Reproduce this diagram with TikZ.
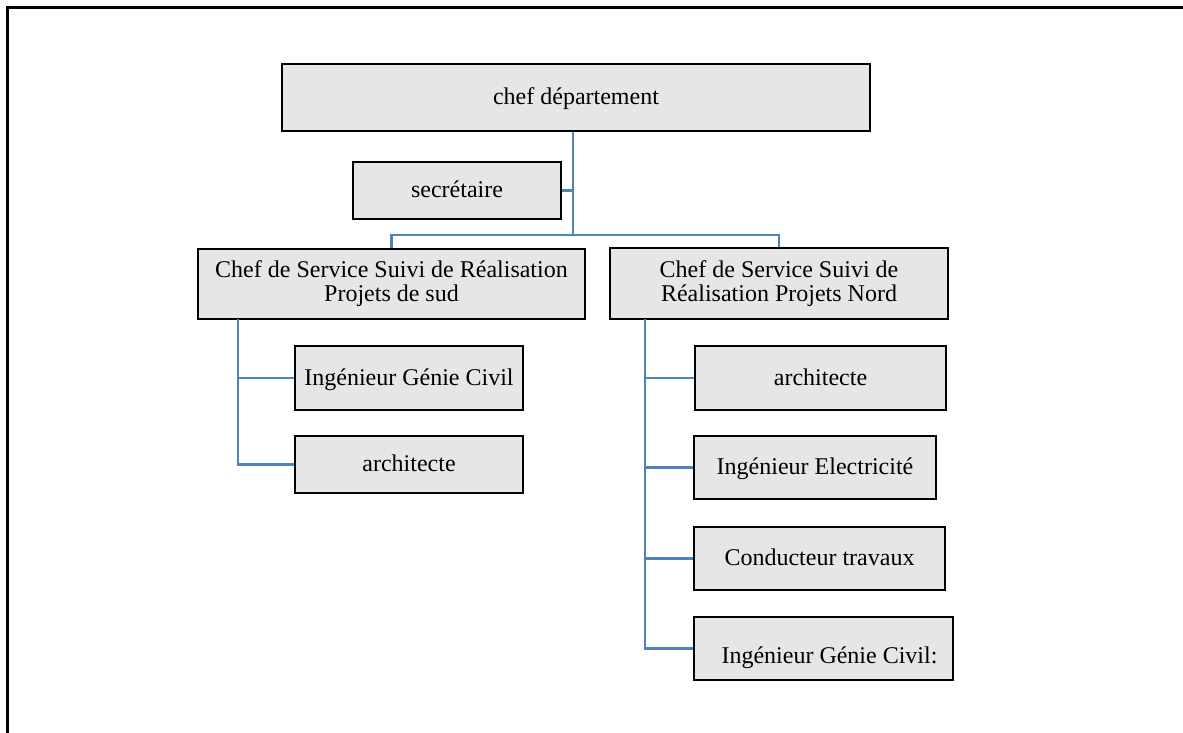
\documentclass[tikz,border=0pt]{standalone}
\usepackage{fontspec}
\setmainfont{Liberation Serif}
\definecolor{boxfill}{HTML}{E6E6E6}
\definecolor{linkblue}{HTML}{4F81BD}
\begin{document}
\begin{tikzpicture}[x=1pt,y=-1pt,
  orgbox/.style={draw=black, line width=2.2pt, fill=boxfill, inner sep=0pt,
    font=\fontsize{24}{24}\selectfont, align=center},
  onebox/.style={orgbox, text height=19pt, text depth=5pt},
  link/.style={draw=linkblue, line width=2.3pt}]
\useasboundingbox (0,0) rectangle (1183,733);
% page frame (only its left and top edges fall on the page)
\draw[line width=3pt] (7,733) -- (7,8) -- (1183,8);

% boxes
\node[onebox, minimum width=588pt, minimum height=67pt] (chef) at (576,97.5) {chef département};
\node[onebox, minimum width=208pt, minimum height=57pt] (secr) at (457,190.5) {secrétaire};
\node[orgbox, minimum width=387pt, minimum height=70pt] (sud) at (391.5,284) {Chef de Service Suivi de Réalisation\\Projets de sud};
\node[orgbox, minimum width=338pt, minimum height=71pt] (nord) at (779,283.5) {Chef de Service Suivi de\\Réalisation Projets Nord};

\node[onebox, minimum width=228pt, minimum height=64pt] (sIGC) at (409,378) {Ingénieur Génie Civil};
\node[onebox, minimum width=228pt, minimum height=57pt] (sArch) at (409,464.5) {architecte};

\node[onebox, minimum width=251pt, minimum height=64pt] (nArch) at (820.5,378) {architecte};
\node[onebox, minimum width=242pt, minimum height=63pt] (nElec) at (815,467.5) {Ingénieur Electricité};
\node[onebox, minimum width=251pt, minimum height=63pt] (nCond) at (819.5,558.5) {Conducteur travaux};
\node[onebox, minimum width=259pt, minimum height=63pt] (nIGC) at (823.5,648.5) {\raisebox{-8pt}{\hspace*{12pt}Ingénieur Génie Civil:}};

% connectors
\coordinate (j0) at (573,235);
\coordinate (sx) at (238,319);
\coordinate (nx) at (645,319);
\draw[link] (chef.south -| j0) -- (j0);
\draw[link] (secr.east) -- (secr.east -| j0);
\draw[link] (sud.north) |- (j0) -| (nord.north);

\draw[link] (sx) |- (sArch.west);
\draw[link] (sx |- sIGC.west) -- (sIGC.west);

\draw[link] (nx) |- (nIGC.west);
\draw[link] (nx |- nArch.west) -- (nArch.west);
\draw[link] (nx |- nElec.west) -- (nElec.west);
\draw[link] (nx |- nCond.west) -- (nCond.west);
\end{tikzpicture}
\end{document}
